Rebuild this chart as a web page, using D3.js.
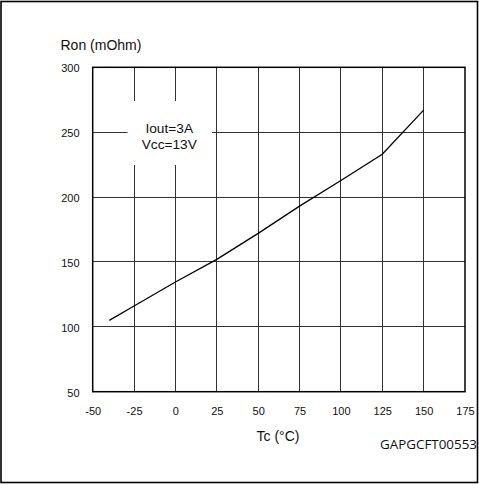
<!DOCTYPE html>
<html>
<head>
<meta charset="utf-8">
<script src="https://cdn.jsdelivr.net/npm/d3@7"></script>
<style>
  html, body { margin: 0; padding: 0; background: #fff; }
  svg { display: block; }
  text { font-family: "Liberation Sans", Arial, Helvetica, sans-serif; fill: #111; }
</style>
</head>
<body>
<svg id="chart" width="479" height="485"></svg>
<script>
// On-resistance vs. case temperature
const tcValues  = [-40, -25, 0, 25, 50, 75, 100, 125, 150];
const ronValues = [105, 116, 134.5, 152, 172, 193, 212.8, 233, 267];

const xTicks = [-50, -25, 0, 25, 50, 75, 100, 125, 150, 175];
const yTicks = [50, 100, 150, 200, 250, 300];

const yTitle = "Ron (mOhm)";
const xTitle = "Tc (°C)";
const conditions = ["Iout=3A", "Vcc=13V"];
const figureCode = "GAPGCFT00553";

const svg = d3.select("#chart");

// outer frame
svg.append("rect")
  .attr("x", 1).attr("y", 1.5).attr("width", 476.5).attr("height", 481)
  .attr("fill", "none").attr("stroke", "#000").attr("stroke-width", 1.6);

const plot = { left: 92.7, right: 465, top: 67.3, bottom: 391.7 };

const x = d3.scaleLinear().domain([-50, 175]).range([plot.left, plot.right]);
const y = d3.scaleLinear().domain([50, 300]).range([plot.bottom, plot.top]);

// grid
const grid = svg.append("g").attr("stroke", "#333").attr("stroke-width", 1).attr("shape-rendering", "crispEdges");
grid.selectAll("line.v").data(xTicks.slice(1, -1)).join("line")
  .attr("x1", d => x(d)).attr("x2", d => x(d))
  .attr("y1", plot.top).attr("y2", plot.bottom);
grid.selectAll("line.h").data(yTicks.slice(1, -1)).join("line")
  .attr("y1", d => y(d)).attr("y2", d => y(d))
  .attr("x1", plot.left).attr("x2", plot.right);

// test-condition box (white background over the grid)
const bx = 127.5, by = 101, bw = 84.5, bh = 64;
svg.append("rect").attr("x", bx).attr("y", by).attr("width", bw).attr("height", bh).attr("fill", "#fff");
svg.append("g").selectAll("text").data(conditions).join("text")
  .attr("x", bx + bw / 2 - 0.5)
  .attr("y", (d, i) => 132.5 + i * 16.8)
  .attr("text-anchor", "middle")
  .attr("font-size", "13.7px")
  .text(d => d);

// plot frame
svg.append("rect")
  .attr("x", plot.left).attr("y", plot.top)
  .attr("width", plot.right - plot.left).attr("height", plot.bottom - plot.top)
  .attr("fill", "none").attr("stroke", "#000").attr("stroke-width", 1.5);

// axes (labels only); plain hyphen for negative values
const fmt = d => String(d);
const xAxis = d3.axisBottom(x).tickValues(xTicks).tickSize(0).tickPadding(15.5).tickFormat(fmt);
const gx = svg.append("g").attr("transform", `translate(0,${plot.bottom})`).call(xAxis);
gx.select(".domain").remove();
gx.selectAll("text").attr("font-size", "11px").attr("font-family", "Liberation Sans, Arial, sans-serif").attr("fill", "#111");

const yAxis = d3.axisLeft(y).tickValues(yTicks).tickSize(0).tickPadding(13.2).tickFormat(fmt);
const gy = svg.append("g").attr("transform", `translate(${plot.left},0)`).call(yAxis);
gy.select(".domain").remove();
gy.selectAll("text").attr("font-size", "11px").attr("dy", "0.4em").attr("font-family", "Liberation Sans, Arial, sans-serif").attr("fill", "#111");

// curve
const pts = tcValues.map((t, i) => [t, ronValues[i]]);
svg.append("path")
  .datum(pts)
  .attr("fill", "none").attr("stroke", "#000").attr("stroke-width", 1.3)
  .attr("d", d3.line().x(d => x(d[0])).y(d => y(d[1])));

// titles
svg.append("text").attr("x", 60.5).attr("y", 50).attr("font-size", "14px").text(yTitle);
svg.append("text").attr("x", 278).attr("y", 441).attr("text-anchor", "middle").attr("font-size", "14px").text(xTitle);
svg.append("text").attr("x", 477).attr("y", 449).attr("text-anchor", "end")
  .attr("font-size", "13.4px").style("font-family", "'Open Sans', sans-serif").text(figureCode);
</script>
</body>
</html>
